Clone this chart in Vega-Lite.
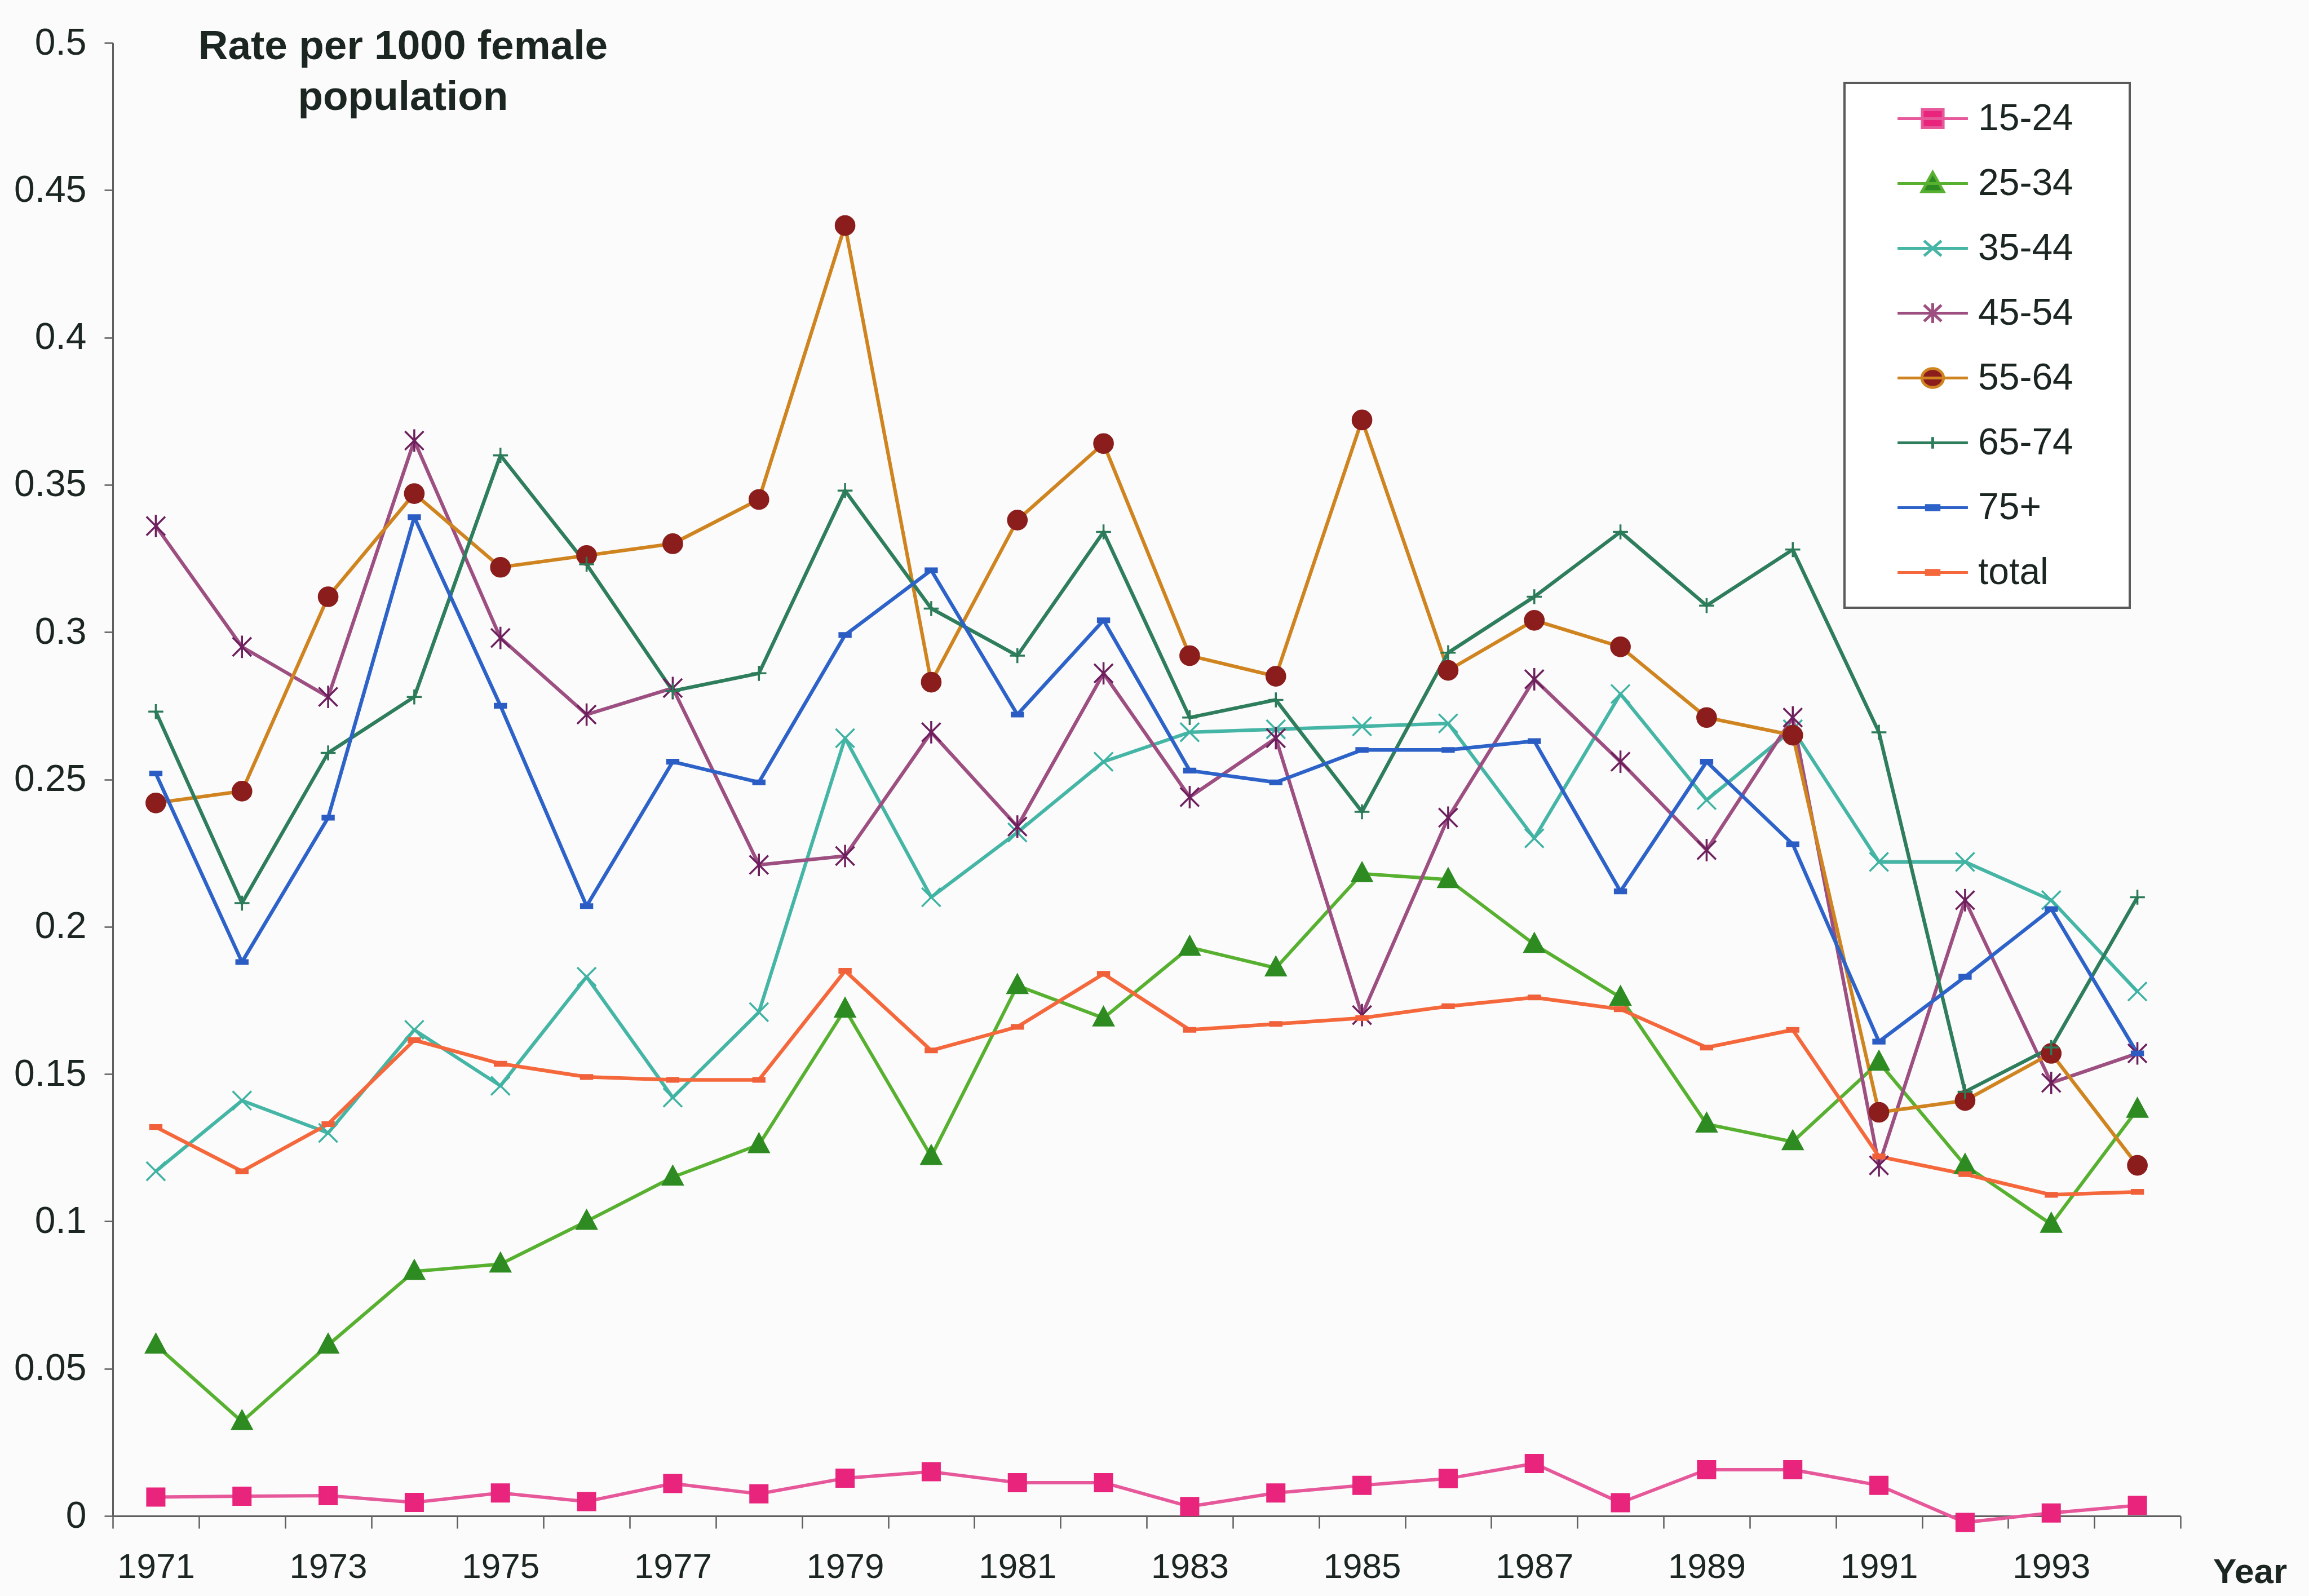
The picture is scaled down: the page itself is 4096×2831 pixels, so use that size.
{
  "$schema": "https://vega.github.io/schema/vega-lite/v6.json",
  "width": 3668,
  "height": 2613,
  "autosize": {"type": "none"},
  "padding": {"left": 200, "top": 76, "right": 228, "bottom": 142},
  "background": "#fbfbfb",
  "config": {"view": {"stroke": null}, "font": "Liberation Sans", "legend": {"strokeWidth": 4}},
  "datasets": {
    "rates": [
      {"year":1971,"series":"15-24","rate":0.0064},{"year":1972,"series":"15-24","rate":0.0067},{"year":1973,"series":"15-24","rate":0.0069},{"year":1974,"series":"15-24","rate":0.0046},{"year":1975,"series":"15-24","rate":0.0078},{"year":1976,"series":"15-24","rate":0.0049},{"year":1977,"series":"15-24","rate":0.011},{"year":1978,"series":"15-24","rate":0.0075},{"year":1979,"series":"15-24","rate":0.0128},{"year":1980,"series":"15-24","rate":0.015},{"year":1981,"series":"15-24","rate":0.0113},{"year":1982,"series":"15-24","rate":0.0113},{"year":1983,"series":"15-24","rate":0.0032},{"year":1984,"series":"15-24","rate":0.0078},{"year":1985,"series":"15-24","rate":0.0104},{"year":1986,"series":"15-24","rate":0.0127},{"year":1987,"series":"15-24","rate":0.0178},{"year":1988,"series":"15-24","rate":0.0045},{"year":1989,"series":"15-24","rate":0.0157},{"year":1990,"series":"15-24","rate":0.0157},{"year":1991,"series":"15-24","rate":0.0104},{"year":1992,"series":"15-24","rate":-0.0022},{"year":1993,"series":"15-24","rate":0.001},{"year":1994,"series":"15-24","rate":0.0036},
      {"year":1971,"series":"25-34","rate":0.058},{"year":1972,"series":"25-34","rate":0.032},{"year":1973,"series":"25-34","rate":0.058},{"year":1974,"series":"25-34","rate":0.083},{"year":1975,"series":"25-34","rate":0.0855},{"year":1976,"series":"25-34","rate":0.1},{"year":1977,"series":"25-34","rate":0.115},{"year":1978,"series":"25-34","rate":0.126},{"year":1979,"series":"25-34","rate":0.172},{"year":1980,"series":"25-34","rate":0.122},{"year":1981,"series":"25-34","rate":0.18},{"year":1982,"series":"25-34","rate":0.169},{"year":1983,"series":"25-34","rate":0.193},{"year":1984,"series":"25-34","rate":0.186},{"year":1985,"series":"25-34","rate":0.218},{"year":1986,"series":"25-34","rate":0.216},{"year":1987,"series":"25-34","rate":0.194},{"year":1988,"series":"25-34","rate":0.176},{"year":1989,"series":"25-34","rate":0.133},{"year":1990,"series":"25-34","rate":0.127},{"year":1991,"series":"25-34","rate":0.154},{"year":1992,"series":"25-34","rate":0.119},{"year":1993,"series":"25-34","rate":0.099},{"year":1994,"series":"25-34","rate":0.138},
      {"year":1971,"series":"35-44","rate":0.117},{"year":1972,"series":"35-44","rate":0.141},{"year":1973,"series":"35-44","rate":0.13},{"year":1974,"series":"35-44","rate":0.165},{"year":1975,"series":"35-44","rate":0.146},{"year":1976,"series":"35-44","rate":0.183},{"year":1977,"series":"35-44","rate":0.142},{"year":1978,"series":"35-44","rate":0.171},{"year":1979,"series":"35-44","rate":0.264},{"year":1980,"series":"35-44","rate":0.21},{"year":1981,"series":"35-44","rate":0.232},{"year":1982,"series":"35-44","rate":0.256},{"year":1983,"series":"35-44","rate":0.266},{"year":1984,"series":"35-44","rate":0.267},{"year":1985,"series":"35-44","rate":0.268},{"year":1986,"series":"35-44","rate":0.269},{"year":1987,"series":"35-44","rate":0.23},{"year":1988,"series":"35-44","rate":0.279},{"year":1989,"series":"35-44","rate":0.243},{"year":1990,"series":"35-44","rate":0.267},{"year":1991,"series":"35-44","rate":0.222},{"year":1992,"series":"35-44","rate":0.222},{"year":1993,"series":"35-44","rate":0.209},{"year":1994,"series":"35-44","rate":0.178},
      {"year":1971,"series":"45-54","rate":0.336},{"year":1972,"series":"45-54","rate":0.295},{"year":1973,"series":"45-54","rate":0.278},{"year":1974,"series":"45-54","rate":0.365},{"year":1975,"series":"45-54","rate":0.298},{"year":1976,"series":"45-54","rate":0.272},{"year":1977,"series":"45-54","rate":0.281},{"year":1978,"series":"45-54","rate":0.221},{"year":1979,"series":"45-54","rate":0.224},{"year":1980,"series":"45-54","rate":0.266},{"year":1981,"series":"45-54","rate":0.234},{"year":1982,"series":"45-54","rate":0.286},{"year":1983,"series":"45-54","rate":0.244},{"year":1984,"series":"45-54","rate":0.264},{"year":1985,"series":"45-54","rate":0.17},{"year":1986,"series":"45-54","rate":0.237},{"year":1987,"series":"45-54","rate":0.284},{"year":1988,"series":"45-54","rate":0.256},{"year":1989,"series":"45-54","rate":0.226},{"year":1990,"series":"45-54","rate":0.271},{"year":1991,"series":"45-54","rate":0.119},{"year":1992,"series":"45-54","rate":0.209},{"year":1993,"series":"45-54","rate":0.147},{"year":1994,"series":"45-54","rate":0.157},
      {"year":1971,"series":"55-64","rate":0.242},{"year":1972,"series":"55-64","rate":0.246},{"year":1973,"series":"55-64","rate":0.312},{"year":1974,"series":"55-64","rate":0.347},{"year":1975,"series":"55-64","rate":0.322},{"year":1976,"series":"55-64","rate":0.326},{"year":1977,"series":"55-64","rate":0.33},{"year":1978,"series":"55-64","rate":0.345},{"year":1979,"series":"55-64","rate":0.438},{"year":1980,"series":"55-64","rate":0.283},{"year":1981,"series":"55-64","rate":0.338},{"year":1982,"series":"55-64","rate":0.364},{"year":1983,"series":"55-64","rate":0.292},{"year":1984,"series":"55-64","rate":0.285},{"year":1985,"series":"55-64","rate":0.372},{"year":1986,"series":"55-64","rate":0.287},{"year":1987,"series":"55-64","rate":0.304},{"year":1988,"series":"55-64","rate":0.295},{"year":1989,"series":"55-64","rate":0.271},{"year":1990,"series":"55-64","rate":0.265},{"year":1991,"series":"55-64","rate":0.137},{"year":1992,"series":"55-64","rate":0.141},{"year":1993,"series":"55-64","rate":0.157},{"year":1994,"series":"55-64","rate":0.119},
      {"year":1971,"series":"65-74","rate":0.273},{"year":1972,"series":"65-74","rate":0.208},{"year":1973,"series":"65-74","rate":0.259},{"year":1974,"series":"65-74","rate":0.278},{"year":1975,"series":"65-74","rate":0.36},{"year":1976,"series":"65-74","rate":0.323},{"year":1977,"series":"65-74","rate":0.28},{"year":1978,"series":"65-74","rate":0.286},{"year":1979,"series":"65-74","rate":0.348},{"year":1980,"series":"65-74","rate":0.308},{"year":1981,"series":"65-74","rate":0.292},{"year":1982,"series":"65-74","rate":0.334},{"year":1983,"series":"65-74","rate":0.271},{"year":1984,"series":"65-74","rate":0.277},{"year":1985,"series":"65-74","rate":0.239},{"year":1986,"series":"65-74","rate":0.293},{"year":1987,"series":"65-74","rate":0.312},{"year":1988,"series":"65-74","rate":0.334},{"year":1989,"series":"65-74","rate":0.309},{"year":1990,"series":"65-74","rate":0.328},{"year":1991,"series":"65-74","rate":0.266},{"year":1992,"series":"65-74","rate":0.144},{"year":1993,"series":"65-74","rate":0.159},{"year":1994,"series":"65-74","rate":0.21},
      {"year":1971,"series":"75+","rate":0.252},{"year":1972,"series":"75+","rate":0.188},{"year":1973,"series":"75+","rate":0.237},{"year":1974,"series":"75+","rate":0.339},{"year":1975,"series":"75+","rate":0.275},{"year":1976,"series":"75+","rate":0.207},{"year":1977,"series":"75+","rate":0.256},{"year":1978,"series":"75+","rate":0.249},{"year":1979,"series":"75+","rate":0.299},{"year":1980,"series":"75+","rate":0.321},{"year":1981,"series":"75+","rate":0.272},{"year":1982,"series":"75+","rate":0.304},{"year":1983,"series":"75+","rate":0.253},{"year":1984,"series":"75+","rate":0.249},{"year":1985,"series":"75+","rate":0.26},{"year":1986,"series":"75+","rate":0.26},{"year":1987,"series":"75+","rate":0.263},{"year":1988,"series":"75+","rate":0.212},{"year":1989,"series":"75+","rate":0.256},{"year":1990,"series":"75+","rate":0.228},{"year":1991,"series":"75+","rate":0.161},{"year":1992,"series":"75+","rate":0.183},{"year":1993,"series":"75+","rate":0.206},{"year":1994,"series":"75+","rate":0.157},
      {"year":1971,"series":"total","rate":0.132},{"year":1972,"series":"total","rate":0.117},{"year":1973,"series":"total","rate":0.133},{"year":1974,"series":"total","rate":0.1615},{"year":1975,"series":"total","rate":0.1535},{"year":1976,"series":"total","rate":0.149},{"year":1977,"series":"total","rate":0.148},{"year":1978,"series":"total","rate":0.148},{"year":1979,"series":"total","rate":0.185},{"year":1980,"series":"total","rate":0.158},{"year":1981,"series":"total","rate":0.166},{"year":1982,"series":"total","rate":0.184},{"year":1983,"series":"total","rate":0.165},{"year":1984,"series":"total","rate":0.167},{"year":1985,"series":"total","rate":0.169},{"year":1986,"series":"total","rate":0.173},{"year":1987,"series":"total","rate":0.176},{"year":1988,"series":"total","rate":0.172},{"year":1989,"series":"total","rate":0.159},{"year":1990,"series":"total","rate":0.165},{"year":1991,"series":"total","rate":0.122},{"year":1992,"series":"total","rate":0.116},{"year":1993,"series":"total","rate":0.109},{"year":1994,"series":"total","rate":0.11}
    ]
  },
  "layer": [
    {
      "data": {"name": "rates"},
      "mark": {"type": "line", "interpolate": "linear", "strokeJoin": "round"},
      "encoding": {
        "x": {
          "field": "year", "type": "ordinal",
          "scale": {"type": "band", "paddingInner": 0, "paddingOuter": 0},
          "axis": {
            "title": "Year", "labelAngle": 0, "tickBand": "extent",
            "labelExpr": "datum.value % 2 == 1 ? datum.label : ''",
            "labelOverlap": false, "labelFont": "Liberation Sans", "labelFontSize": 62, "labelColor": "#1c2620",
            "labelPadding": 38, "tickSize": 22, "tickWidth": 2.5, "tickColor": "#5e5e5e",
            "domainColor": "#5e5e5e", "domainWidth": 3, "grid": false,
            "titleX": 3791, "titleY": 99, "titleAlign": "center", "titleBaseline": "middle", "titleAngle": 0,
            "titleFont": "Liberation Sans", "titleFontSize": 62, "titleFontWeight": "bold", "titleColor": "#1c2620"
          }
        },
        "y": {
          "field": "rate", "type": "quantitative",
          "scale": {"domain": [0, 0.5], "nice": false, "zero": false},
          "axis": {
            "title": null, "values": [0, 0.05, 0.1, 0.15, 0.2, 0.25, 0.3, 0.35, 0.4, 0.45, 0.5],
            "format": ".2~f", "grid": false, "labelFont": "Liberation Sans", "labelFontSize": 66, "labelColor": "#1c2620",
            "labelPadding": 32, "tickSize": 15, "tickWidth": 2.5, "tickColor": "#5e5e5e",
            "domainColor": "#5e5e5e", "domainWidth": 3
          }
        },
        "color": {
          "field": "series", "type": "nominal",
          "scale": {
            "domain": ["15-24", "25-34", "35-44", "45-54", "55-64", "65-74", "75+", "total"],
            "range": ["#e6589a", "#58b030", "#45b5a5", "#9c4f80", "#cf8420", "#2e7d5c", "#2d62c8", "#f4683c"]
          },
          "legend": null
        },
        "strokeWidth": {
          "field": "series", "type": "nominal",
          "scale": {
            "domain": ["15-24", "25-34", "35-44", "45-54", "55-64", "65-74", "75+", "total"],
            "range": [6, 6.5, 4.5, 5, 8, 5, 8, 6.5]
          },
          "legend": null
        }
      }
    },
    {
      "data": {"name": "rates"},
      "mark": {"type": "point", "filled": true, "size": 1100, "strokeWidth": 3.5, "opacity": 1},
      "encoding": {
        "x": {"field": "year", "type": "ordinal"},
        "y": {"field": "rate", "type": "quantitative"},
        "shape": {
          "field": "series", "type": "nominal",
          "scale": {
            "domain": ["15-24", "25-34", "35-44", "45-54", "55-64", "65-74", "75+", "total"],
            "range": ["M-0.92,-0.92H0.92V0.92H-0.92Z", "M0,-1.15L1.05,0.8H-1.05Z", "M-1,-1L1,1M-1,1L1,-1", "M-1,-1L1,1M-1,1L1,-1M0,-1.2V1.2", "M1,0A1,1,0,1,1,-1,0A1,1,0,1,1,1,0Z", "M-0.8,0H0.8M0,-0.8V0.8", "M-0.6,-0.2H0.6V0.2H-0.6Z", "M-0.6,-0.2H0.6V0.2H-0.6Z"]
          },
          "legend": null
        },
        "fill": {
          "field": "series", "type": "nominal",
          "scale": {
            "domain": ["15-24", "25-34", "35-44", "45-54", "55-64", "65-74", "75+", "total"],
            "range": ["#e8247c", "#2e8b22", "#3fb3a3", "#6d1f5e", "#8b1d1d", "#2b7a58", "#2a5cc4", "#f0603a"]
          },
          "legend": null
        },
        "stroke": {
          "field": "series", "type": "nominal",
          "scale": {
            "domain": ["15-24", "25-34", "35-44", "45-54", "55-64", "65-74", "75+", "total"],
            "range": ["#e8247c", "#2e8b22", "#3fb3a3", "#6d1f5e", "#8b1d1d", "#2b7a58", "#2a5cc4", "#f0603a"]
          },
          "legend": null
        }
      }
    },
    {
      "data": {"name": "rates"},
      "transform": [{"filter": "datum.rate > 1"}],
      "mark": {"type": "point", "filled": true, "opacity": 1},
      "encoding": {
        "x": {"field": "year", "type": "ordinal"},
        "y": {"field": "rate", "type": "quantitative"},
        "shape": {
          "field": "series", "type": "nominal",
          "scale": {
            "domain": ["15-24", "25-34", "35-44", "45-54", "55-64", "65-74", "75+", "total"],
            "range": ["M-1.95,0H1.95M-0.58,-0.5H0.58V0.5H-0.58ZM9.7,0", "M-1.95,0H1.95M0,-0.62L0.6,0.45H-0.6ZM9.7,0", "M-1.95,0H1.95M-0.48,-0.42L0.48,0.42M-0.48,0.42L0.48,-0.42M9.7,0", "M-1.95,0H1.95M-0.48,-0.45L0.48,0.45M-0.48,0.45L0.48,-0.45M0,-0.55V0.55M9.7,0", "M-1.95,0H1.95M0.6,0A0.6,0.52,0,1,1,-0.6,0A0.6,0.52,0,1,1,0.6,0ZM9.7,0", "M-1.95,0H1.95M0,-0.32V0.32M9.7,0", "M-1.95,0H1.95M-0.35,-0.12H0.35V0.12H-0.35ZM9.7,0", "M-1.95,0H1.95M-0.35,-0.12H0.35V0.12H-0.35ZM9.7,0"]
          },
          "legend": {
            "title": null, "orient": "none", "legendX": 3072, "legendY": 71,
            "padding": 29, "strokeColor": "#5a5a5a", "fillColor": "#ffffff",
            "labelFont": "Liberation Sans", "labelFontSize": 66, "labelColor": "#1c2620", "labelLimit": 1000,
            "labelOffset": 46, "symbolOffset": 93, "symbolSize": 4096, "symbolStrokeWidth": 5,
            "rowPadding": 47
          }
        },
        "fill": {
          "field": "series", "type": "nominal",
          "scale": {
            "domain": ["15-24", "25-34", "35-44", "45-54", "55-64", "65-74", "75+", "total"],
            "range": ["#e8247c", "#2e8b22", "#3fb3a3", "#6d1f5e", "#8b1d1d", "#2b7a58", "#2a5cc4", "#f0603a"]
          },
          "legend": {
            "title": null, "orient": "none", "legendX": 3072, "legendY": 71,
            "padding": 29, "strokeColor": "#5a5a5a", "fillColor": "#ffffff",
            "labelFont": "Liberation Sans", "labelFontSize": 66, "labelColor": "#1c2620", "labelLimit": 1000,
            "labelOffset": 46, "symbolOffset": 93, "symbolSize": 4096, "symbolStrokeWidth": 5,
            "rowPadding": 47
          }
        },
        "stroke": {
          "field": "series", "type": "nominal",
          "scale": {
            "domain": ["15-24", "25-34", "35-44", "45-54", "55-64", "65-74", "75+", "total"],
            "range": ["#e6589a", "#58b030", "#45b5a5", "#9c4f80", "#cf8420", "#2e7d5c", "#2d62c8", "#f4683c"]
          },
          "legend": {
            "title": null, "orient": "none", "legendX": 3072, "legendY": 71,
            "padding": 29, "strokeColor": "#5a5a5a", "fillColor": "#ffffff",
            "labelFont": "Liberation Sans", "labelFontSize": 66, "labelColor": "#1c2620", "labelLimit": 1000,
            "labelOffset": 46, "symbolOffset": 93, "symbolSize": 4096, "symbolStrokeWidth": 5,
            "rowPadding": 47
          }
        }
      }
    },
    {
      "data": {"values": [{"label": "title"}]},
      "mark": {
        "type": "text", "text": ["Rate per 1000 female", "population"],
        "font": "Liberation Sans", "fontSize": 73, "fontWeight": "bold", "color": "#1c2620",
        "align": "center", "baseline": "alphabetic", "lineHeight": 90, "dx": -20, "dy": 29
      },
      "encoding": {
        "x": {"datum": 1974, "type": "ordinal"},
        "y": {"datum": 0.5, "type": "quantitative"}
      }
    }
  ],
  "resolve": {"scale": {"shape": "independent", "fill": "independent", "stroke": "independent"}}
}
